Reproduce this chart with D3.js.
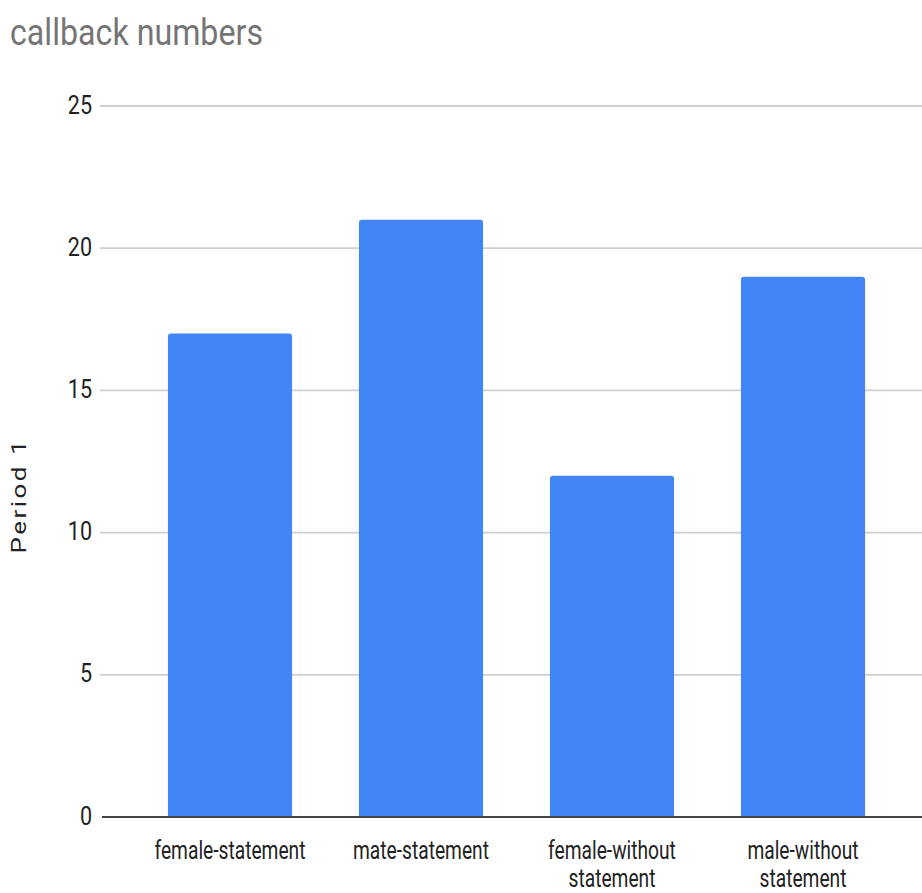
<!DOCTYPE html>
<html>
<head>
<meta charset="utf-8">
<script src="https://cdn.jsdelivr.net/npm/d3@7"></script>
<style>
  html, body { margin: 0; padding: 0; background: #fff; }
  svg { display: block; }
  text { font-family: Roboto, "Noto Sans", sans-serif; }
</style>
</head>
<body>
<svg id="chart" width="922" height="893"></svg>
<script>
const chartTitle = "callback numbers";
const yAxisTitle = "Period 1";
const categories = [
  ["female-statement"],
  ["mate-statement"],
  ["female-without", "statement"],
  ["male-without", "statement"]
];
const values = [17, 21, 12, 19];
const yTicks = [0, 5, 10, 15, 20, 25];

const svg = d3.select("#chart");
const W = 922, H = 893;

const y = d3.scaleLinear().domain([0, 25]).range([817, 106]);
const x = d3.scaleBand()
  .domain(categories.map((d, i) => i))
  .range([134.5, 898.5])
  .paddingInner(0.35)
  .paddingOuter(0.175);

function squeeze(sel, factor) {
  sel.each(function () {
    const n = this.getComputedTextLength();
    d3.select(this).attr("textLength", n * factor).attr("lengthAdjust", "spacingAndGlyphs");
  });
}

// gridlines
svg.append("g")
  .selectAll("line")
  .data(yTicks.filter(t => t !== 0))
  .join("line")
  .attr("x1", 100).attr("x2", W)
  .attr("y1", d => y(d)).attr("y2", d => y(d))
  .attr("stroke", "#cfcfcf").attr("stroke-width", 1.8);

// y tick labels
const yl = svg.append("g")
  .selectAll("text")
  .data(yTicks)
  .join("text")
  .attr("x", 92)
  .attr("y", d => y(d))
  .attr("dy", "0.3em")
  .attr("text-anchor", "end")
  .attr("font-size", 25)
  .attr("fill", "#222")
  .text(d => d);
squeeze(yl, 0.86);

// bars with rounded tops
svg.append("g")
  .selectAll("path")
  .data(values)
  .join("path")
  .attr("fill", "#4285F4")
  .attr("d", (d, i) => {
    const x0 = x(i), w = x.bandwidth(), y0 = y(d), yb = y(0), r = 3;
    return `M${x0},${yb} L${x0},${y0 + r} Q${x0},${y0} ${x0 + r},${y0} L${x0 + w - r},${y0} Q${x0 + w},${y0} ${x0 + w},${y0 + r} L${x0 + w},${yb} Z`;
  });

// zero axis line
svg.append("line")
  .attr("x1", 102).attr("x2", W)
  .attr("y1", y(0)).attr("y2", y(0))
  .attr("stroke", "#444").attr("stroke-width", 2);

// category labels
const cg = svg.append("g");
categories.forEach((lines, i) => {
  const cx = x(i) + x.bandwidth() / 2;
  lines.forEach((ln, j) => {
    cg.append("text")
      .attr("x", cx)
      .attr("y", 859 + j * 28)
      .attr("text-anchor", "middle")
      .attr("font-size", 25)
      .attr("fill", "#222")
      .text(ln);
  });
});
const ref = cg.select("text").node().getComputedTextLength();
squeeze(cg.selectAll("text"), 151 / ref);

// title
const tt = svg.append("text")
  .attr("x", 10).attr("y", 45)
  .attr("font-size", 37)
  .attr("fill", "#757575")
  .text(chartTitle);
squeeze(tt, 253 / tt.node().getComputedTextLength());

// y axis title
svg.append("text")
  .attr("transform", "translate(26,497) scale(0.8,1) rotate(-90)")
  .attr("text-anchor", "middle")
  .attr("font-family", "'Liberation Sans', Arial, sans-serif")
  .attr("font-size", 26)
  .attr("fill", "#222")
  .attr("textLength", 113)
  .attr("lengthAdjust", "spacing")
  .text(yAxisTitle);
</script>
</body>
</html>
